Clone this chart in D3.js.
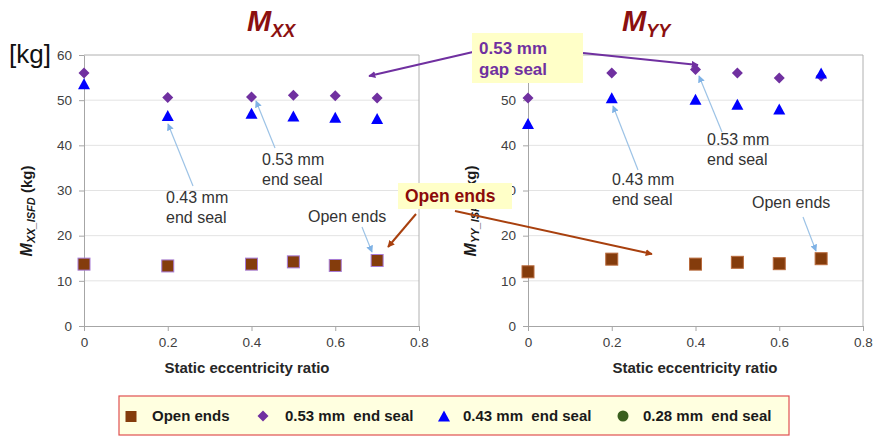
<!DOCTYPE html>
<html>
<head>
<meta charset="utf-8">
<script src="https://cdn.jsdelivr.net/npm/d3@7"></script>
<style>
  body { margin: 0; background: #fff; }
  svg { font-family: "Liberation Sans", Arial, sans-serif; }
</style>
</head>
<body>
<svg id="chart" width="875" height="437"></svg>
<script>
// data
var ratios = [0, 0.2, 0.4, 0.5, 0.6, 0.7];
var mxxOpen = [13.7, 13.3, 13.7, 14.2, 13.4, 14.5];
var mxx053 = [56.0, 50.6, 50.7, 51.1, 51.0, 50.5];
var mxx043 = [53.4, 46.4, 46.9, 46.3, 46.0, 45.7];
var myyOpen = [12.0, 14.8, 13.7, 14.1, 13.8, 14.9];
var myy053 = [50.5, 56.0, 56.8, 56.0, 54.9, 55.3];
var myy043 = [44.6, 50.3, 50.0, 48.9, 47.8, 55.8];
var xTicks = [0, 0.2, 0.4, 0.6, 0.8];
var yTicks = [0, 10, 20, 30, 40, 50, 60];
var legendLabels = ["Open ends", "0.53 mm  end seal", "0.43 mm  end seal", "0.28 mm  end seal"];

var brown = "#843C0C", purple = "#7030A0", blue = "#0000FF", green = "#3A5F1F";
var titleRed = "#8B1010";

var svg = d3.select("#chart");

// marker paths
var diamondPath = "M0,-5.5L5.5,0L0,5.5L-5.5,0Z";
var trianglePath = "M0,-6.5L6,4.5L-6,4.5Z";

// defs for arrow heads
var defs = svg.append("defs");
function marker(id, color) {
  defs.append("marker")
    .attr("id", id)
    .attr("viewBox", "0 0 10 10")
    .attr("refX", 9).attr("refY", 5)
    .attr("markerWidth", 7).attr("markerHeight", 7)
    .attr("markerUnits", "userSpaceOnUse")
    .attr("orient", "auto")
    .append("path").attr("d", "M0,0L10,5L0,10Z").attr("fill", color);
}
marker("arBlue", "#7FB2E5");
marker("arPurple", purple);
marker("arBrown", "#A8400E");

function drawPanel(x0, x1, sub, axisSub, openVals, v053, v043, sqStroke, axTitleX, titleX) {
  var x = d3.scaleLinear().domain([0, 0.8]).range([x0, x1]);
  var y = d3.scaleLinear().domain([0, 60]).range([326, 55]);

  var g = svg.append("g");

  // gridlines
  g.selectAll(".grid").data(yTicks.filter(d => d > 0 && d < 60)).enter()
    .append("line")
    .attr("x1", x0).attr("x2", x1)
    .attr("y1", d => y(d)).attr("y2", d => y(d))
    .attr("stroke", "#E3E3E3").attr("stroke-width", 1);

  // frame top / right
  g.append("line").attr("x1", x0).attr("x2", x1).attr("y1", y(60)).attr("y2", y(60))
    .attr("stroke", "#B0B0B0");
  g.append("line").attr("x1", x1).attr("x2", x1).attr("y1", y(0)).attr("y2", y(60))
    .attr("stroke", "#B0B0B0");

  var xAxis = g.append("g")
    .attr("transform", "translate(0," + y(0) + ")")
    .call(d3.axisBottom(x).tickValues(xTicks).tickFormat(d => String(d))
      .tickSize(5).tickSizeOuter(0).tickPadding(6));
  var yAxis = g.append("g")
    .attr("transform", "translate(" + x0 + ",0)")
    .call(d3.axisLeft(y).tickValues(yTicks).tickSize(5).tickSizeOuter(0).tickPadding(7));

  [xAxis, yAxis].forEach(function (a) {
    a.select(".domain").attr("stroke", "#A6A6A6");
    a.selectAll(".tick line").attr("stroke", "#A6A6A6");
    a.selectAll(".tick text").attr("fill", "#404040")
      .style("font-size", "13.5px").style("font-family", "Liberation Sans, Arial, sans-serif");
  });

  // x axis title
  g.append("text")
    .attr("x", axTitleX).attr("y", 373)
    .attr("text-anchor", "middle")
    .style("font-size", "15px").style("font-weight", "bold").attr("fill", "#262626")
    .text("Static eccentricity ratio");

  // y axis title
  var yt = g.append("text")
    .attr("transform", "translate(" + (x0 - 52) + ",211) rotate(-90)")
    .attr("text-anchor", "middle")
    .style("font-weight", "bold").attr("fill", "#1a1a1a");
  yt.append("tspan").style("font-size", "16px").style("font-style", "italic").text("M");
  yt.append("tspan").style("font-size", "11px").style("font-style", "italic").attr("dy", 3).text(axisSub);
  yt.append("tspan").style("font-size", "15px").attr("dy", -3).text(" (kg)");

  // chart title
  var tt = g.append("text")
    .attr("x", titleX).attr("y", 31)
    .style("font-weight", "bold").style("font-style", "italic").attr("fill", titleRed);
  tt.append("tspan").style("font-size", "29px").text("M");
  tt.append("tspan").style("font-size", "18px").attr("dy", 6).text(sub);

  // markers
  g.selectAll(".sq").data(openVals).enter().append("rect")
    .attr("x", (d, i) => x(ratios[i]) - 6)
    .attr("y", d => y(d) - 6)
    .attr("width", 12).attr("height", 12)
    .attr("fill", brown).attr("stroke", sqStroke).attr("stroke-width", 1);

  g.selectAll(".dm").data(v053).enter().append("path")
    .attr("d", diamondPath)
    .attr("transform", (d, i) => "translate(" + x(ratios[i]) + "," + y(d) + ")")
    .attr("fill", purple);

  g.selectAll(".tr").data(v043).enter().append("path")
    .attr("d", trianglePath)
    .attr("transform", (d, i) => "translate(" + x(ratios[i]) + "," + y(d) + ")")
    .attr("fill", blue);
}

drawPanel(84, 419, "XX", "XX_ISFD", mxxOpen, mxx053, mxx043, "#A77BD6", 247, 247);
drawPanel(528, 863, "YY", "YY_ISFD", myyOpen, myy053, myy043, "#B86A3C", 695, 622);

// [kg]
svg.append("text").attr("x", 9).attr("y", 63)
  .style("font-size", "26px").attr("fill", "#111").text("[kg]");

// gray annotations
function note(xp, yp, lines) {
  var t = svg.append("text").attr("x", xp).attr("y", yp)
    .style("font-size", "16px").attr("fill", "#333");
  lines.forEach(function (l, i) {
    t.append("tspan").attr("x", xp).attr("dy", i === 0 ? 0 : 20).text(l);
  });
}
note(166, 203, ["0.43 mm", "end seal"]);
note(262, 165, ["0.53 mm", "end seal"]);
note(308, 222, ["Open ends"]);
note(612, 185, ["0.43 mm", "end seal"]);
note(707, 145, ["0.53 mm", "end seal"]);
note(752, 208, ["Open ends"]);

function arrow(xa, ya, xb, yb, color, id, w) {
  svg.append("line")
    .attr("x1", xa).attr("y1", ya).attr("x2", xb).attr("y2", yb)
    .attr("stroke", color).attr("stroke-width", w)
    .attr("marker-end", "url(#" + id + ")");
}
var lb = "#9DC3E6";
arrow(193, 186, 168, 124, lb, "arBlue", 1.2);
arrow(275, 148, 256, 101, lb, "arBlue", 1.2);
arrow(362, 227, 372, 252, lb, "arBlue", 1.2);
arrow(638, 170, 613, 106, lb, "arBlue", 1.2);
arrow(722, 132, 699, 76, lb, "arBlue", 1.2);
arrow(803, 217, 816, 251, lb, "arBlue", 1.2);

// gap seal callout
arrow(473, 52, 369, 76, purple, "arPurple", 2);
arrow(583, 53, 698, 65, purple, "arPurple", 2);
svg.append("rect").attr("x", 472).attr("y", 33).attr("width", 111).attr("height", 50)
  .attr("fill", "#FFFFC8");
var gs = svg.append("g").style("font-size", "17px").style("font-weight", "bold").attr("fill", purple);
gs.append("text").attr("x", 479).attr("y", 54).text("0.53 mm");
gs.append("text").attr("x", 479).attr("y", 75).text("gap seal");

// open ends callout
arrow(416, 214, 388, 247, "#A8400E", "arBrown", 2);
arrow(455, 211, 652, 254, "#A8400E", "arBrown", 2);
svg.append("rect").attr("x", 398).attr("y", 183).attr("width", 114).attr("height", 26)
  .attr("fill", "#FFFFC8");
svg.append("text").attr("x", 405).attr("y", 202)
  .style("font-size", "17.5px").style("font-weight", "bold").attr("fill", "#8B0A0A")
  .text("Open ends");

// legend
svg.append("rect").attr("x", 119).attr("y", 396).attr("width", 670).attr("height", 39)
  .attr("fill", "#FFFFE0").attr("stroke", "#E05050").attr("stroke-width", 1.2);

var legX = [131, 263, 444, 623];
var legTextX = [152, 285, 463, 643];
var lg = svg.append("g");
lg.append("rect").attr("x", legX[0] - 5.5).attr("y", 411).attr("width", 11).attr("height", 11).attr("fill", brown);
lg.append("path").attr("d", diamondPath).attr("transform", "translate(" + legX[1] + ",416)").attr("fill", purple);
lg.append("path").attr("d", trianglePath).attr("transform", "translate(" + legX[2] + ",417)").attr("fill", blue);
lg.append("circle").attr("cx", legX[3]).attr("cy", 416).attr("r", 5.5).attr("fill", green);
lg.selectAll(".lt").data(legendLabels).enter().append("text")
  .attr("x", (d, i) => legTextX[i]).attr("y", 421)
  .style("font-size", "15px").style("font-weight", "bold").attr("fill", "#1a1a1a")
  .attr("xml:space", "preserve").style("white-space", "pre")
  .text(d => d);
</script>
</body>
</html>
